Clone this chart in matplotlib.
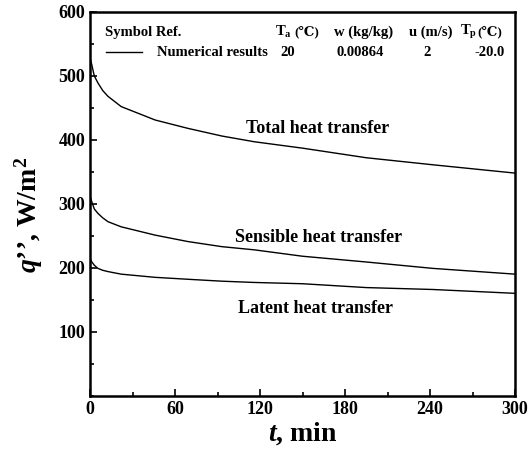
import numpy as np
import matplotlib.pyplot as plt
from matplotlib.ticker import MultipleLocator

plt.rcParams['font.family'] = ['Liberation Serif', 'DejaVu Serif', 'DejaVu Sans']
plt.rcParams['font.weight'] = 'bold'
plt.rcParams['mathtext.fontset'] = 'custom'
plt.rcParams['mathtext.it'] = 'Liberation Serif:italic:bold'
plt.rcParams['mathtext.rm'] = 'Liberation Serif:bold'
plt.rcParams['mathtext.bf'] = 'Liberation Serif:bold'

# values
t_min = [0, 1, 3, 5.6, 9, 12.7, 22, 46, 69, 93, 116, 150, 195, 242, 300]
q_total = [528, 520, 500, 489, 477, 468, 452, 431, 418, 406, 397, 387, 372, 361, 348]
q_sensible = [312, 305, 292, 285, 278, 272, 264, 251, 241, 233, 228, 218, 209, 199, 190]
q_latent = [215, 210, 204, 199, 196, 194, 190, 185, 182, 179, 177, 175, 169, 166, 160]

x_ticks = [0, 60, 120, 180, 240, 300]
y_ticks = [100, 200, 300, 400, 500, 600]

fig = plt.figure(figsize=(5.31, 4.59), dpi=100)
ax = fig.add_axes([0.1695, 0.138, 0.8005, 0.836])

ax.plot(t_min, q_total, color='black', lw=1.0)
ax.plot(t_min, q_sensible, color='black', lw=1.0)
ax.plot(t_min, q_latent, color='black', lw=1.0)

ax.set_xlim(0, 300)
ax.set_ylim(0, 600)
ax.set_xticks(x_ticks)
ax.set_yticks(y_ticks)
ax.xaxis.set_minor_locator(MultipleLocator(30))
ax.yaxis.set_minor_locator(MultipleLocator(50))
ax.tick_params(which='both', direction='in', top=False, right=False, labelsize=13, width=1.2)
ax.tick_params(which='major', length=5)
ax.tick_params(which='minor', length=3)
for lab in ax.get_xticklabels() + ax.get_yticklabels():
    lab.set_fontweight('bold')
for sp in ax.spines.values():
    sp.set_linewidth(1.8)

ax.set_xlabel(r'$t$, min', fontsize=20, fontweight='bold', labelpad=2)
ax.set_ylabel(r'$q$’’, W/m$^\mathbf{2}$', fontsize=20, fontweight='bold')
ax.yaxis.set_label_coords(-0.105, 0.47)

# curve labels
ax.text(161, 418, 'Total heat transfer', fontsize=13, fontweight='bold', ha='center', va='center')
ax.text(161, 248, 'Sensible heat transfer', fontsize=13, fontweight='bold', ha='center', va='center')
ax.text(159, 137, 'Latent heat transfer', fontsize=13, fontweight='bold', ha='center', va='center')

# legend table
fs = 10.5
ax.text(10.5, 568, 'Symbol Ref.', fontsize=fs, fontweight='bold', va='center')
ax.plot([11, 37], [537, 537], color='black', lw=1.0)
ax.text(47, 537, 'Numerical results', fontsize=fs, fontweight='bold', va='center')
ax.text(130.5, 568, r'T$_\mathbf{a}$', fontsize=fs, fontweight='bold', va='center')
ax.text(144, 568, '(℃)', fontsize=9.5, fontweight='bold', va='center')
ax.text(139.8, 537, '20', fontsize=fs, fontweight='bold', va='center', ha='center')
ax.text(193, 568, 'w (kg/kg)', fontsize=fs, fontweight='bold', va='center', ha='center')
ax.text(190.6, 537, '0.00864', fontsize=fs, fontweight='bold', va='center', ha='center')
ax.text(240.7, 568, 'u (m/s)', fontsize=fs, fontweight='bold', va='center', ha='center')
ax.text(238, 537, '2', fontsize=fs, fontweight='bold', va='center', ha='center')
ax.text(261, 568, r'T$_\mathbf{p}$', fontsize=fs, fontweight='bold', va='center')
ax.text(273.5, 568, '(℃)', fontsize=9.5, fontweight='bold', va='center')
ax.text(282, 537, '-20.0', fontsize=fs, fontweight='bold', va='center', ha='center')

plt.savefig('out.png', dpi=100)
plt.close('all')
